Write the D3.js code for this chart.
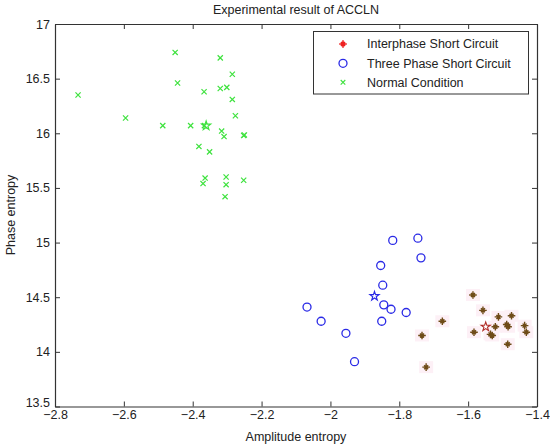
<!DOCTYPE html>
<html><head><meta charset="utf-8">
<script src="https://cdn.jsdelivr.net/npm/d3@7"></script>
<style>body{margin:0;background:#fff}svg{display:block;font-family:"Liberation Sans",Arial,sans-serif}</style>
</head><body><svg id="c" width="550" height="447"></svg>
<script>
// ---- data ----
const xTicks = [-2.8, -2.6, -2.4, -2.2, -2, -1.8, -1.6, -1.4];
const yTicks = [13.5, 14, 14.5, 15, 15.5, 16, 16.5, 17];
const seriesNames = ["Interphase Short Circuit", "Three Phase Short Circuit", "Normal Condition"];

const interX = [-1.586, -1.557, -1.512, -1.474, -1.675, -1.521, -1.488, -1.484, -1.436, -1.431, -1.583, -1.535, -1.530, -1.734, -1.485, -1.722];
const interY = [14.52, 14.38, 14.32, 14.33, 14.28, 14.23, 14.25, 14.23, 14.24, 14.18, 14.18, 14.16, 14.15, 14.15, 14.07, 13.86];

const threeX = [-1.819, -1.746, -1.737, -1.854, -1.848, -2.068, -1.845, -1.824, -1.780, -2.027, -1.851, -1.955, -1.930];
const threeY = [15.02, 15.04, 14.86, 14.79, 14.61, 14.41, 14.43, 14.39, 14.36, 14.28, 14.28, 14.17, 13.91];

const normX = [-2.733, -2.595, -2.487, -2.406, -2.451, -2.444, -2.367, -2.366, -2.320, -2.320, -2.301, -2.285, -2.285, -2.276, -2.316, -2.309, -2.252, -2.250, -2.382, -2.351, -2.364, -2.370, -2.303, -2.303, -2.252, -2.306];
const normY = [16.35, 16.14, 16.07, 16.07, 16.74, 16.46, 16.38, 16.07, 16.69, 16.41, 16.42, 16.54, 16.31, 16.16, 16.02, 15.97, 15.98, 15.985, 15.88, 15.83, 15.59, 15.54, 15.60, 15.53, 15.57, 15.42];

// cluster centres (pentagram markers): interphase, three phase, normal
const centerX = [-1.549, -1.872, -2.361];
const centerY = [14.23, 14.51, 16.07];

// ---- drawing ----
const svg = d3.select("#c");
const x = d3.scaleLinear().domain([-2.8, -1.4]).range([55, 537]);
const y = d3.scaleLinear().domain([13.5, 17]).range([406.5, 24]);
const axisColor = "#333";
const tickFont = 12.5;

const g = svg.append("g");

// faint pink JPEG-like halos behind red markers
g.selectAll("rect.halo").data(interX.map((v, i) => [v, interY[i]])).join("rect")
  .attr("x", d => x(d[0]) - 7).attr("y", d => y(d[1]) - 6)
  .attr("width", 14).attr("height", 12)
  .attr("fill", "#fdf0f6");

// frame + axes
function styleAxis(sel) {
  sel.selectAll("path.domain").attr("stroke", axisColor).attr("stroke-width", 1.2);
  sel.selectAll("line").attr("stroke", axisColor);
  sel.selectAll("text").attr("fill", "#222").attr("font-size", tickFont)
     .attr("font-family", "Liberation Sans, Arial, sans-serif");
}
svg.append("g").attr("transform", `translate(0,${y(13.5)})`)
  .call(d3.axisBottom(x).tickValues(xTicks).tickFormat(d3.format("")).tickSize(-5).tickSizeOuter(0).tickPadding(4))
  .call(styleAxis);
const yAx = svg.append("g").attr("transform", `translate(${x(-2.8)},0)`)
  .call(d3.axisLeft(y).tickValues(yTicks).tickFormat(d3.format("")).tickSize(-5).tickSizeOuter(0).tickPadding(5))
  .call(styleAxis);
yAx.selectAll(".tick").filter(d => d === 13.5).select("text").attr("dy", "0.02em");
svg.append("g").attr("transform", `translate(0,${y(17)})`)
  .call(d3.axisTop(x).tickValues(xTicks).tickFormat("").tickSize(-5).tickSizeOuter(0))
  .call(styleAxis);
svg.append("g").attr("transform", `translate(${x(-1.4)},0)`)
  .call(d3.axisRight(y).tickValues(yTicks).tickFormat("").tickSize(-5).tickSizeOuter(0))
  .call(styleAxis);

// markers
const xPath = a => `M${-a},${-a}L${a},${a}M${-a},${a}L${a},${-a}`;
const starPath = (a, b) => `M${-a},0L${a},0M0,${-a}L0,${a}M${-b},${-b}L${b},${b}M${-b},${b}L${b},${-b}`;

g.selectAll("path.norm").data(normX.map((v, i) => [v, normY[i]])).join("path")
  .attr("transform", d => `translate(${x(d[0])},${y(d[1])})`)
  .attr("d", xPath(2.6)).attr("stroke", "#3ee23e").attr("stroke-width", 1.2).attr("fill", "none");

g.selectAll("circle.three").data(threeX.map((v, i) => [v, threeY[i]])).join("circle")
  .attr("cx", d => x(d[0])).attr("cy", d => y(d[1])).attr("r", 4)
  .attr("stroke", "#2a2ae6").attr("stroke-width", 1.3).attr("fill", "none");

g.selectAll("path.inter").data(interX.map((v, i) => [v, interY[i]])).join("path")
  .attr("transform", d => `translate(${x(d[0])},${y(d[1])})`)
  .attr("d", starPath(3.8, 2)).attr("stroke", "#6f4c18").attr("stroke-width", 1.4).attr("fill", "none");

const centerColors = ["#b2302a", "#2a2ae6", "#3ee23e"];
g.selectAll("path.center").data(centerX.map((v, i) => [v, centerY[i], centerColors[i]])).join("path")
  .attr("transform", d => `translate(${x(d[0])},${y(d[1])})`)
  .attr("d", d3.symbol(d3.symbolStar, 26)())
  .attr("stroke", d => d[2]).attr("stroke-width", 1.1).attr("fill", "none");

// legend
const lg = svg.append("g");
lg.append("rect").attr("x", 313.5).attr("y", 31.5).attr("width", 215).attr("height", 62.5)
  .attr("fill", "#fff").attr("stroke", axisColor).attr("stroke-width", 1);
const rows = [44, 63.3, 82.3];
lg.append("path").attr("transform", `translate(343,${rows[0]})`).attr("d", starPath(3.8, 2))
  .attr("stroke", "#ee2020").attr("stroke-width", 1.6);
lg.append("circle").attr("cx", 343).attr("cy", rows[1]).attr("r", 4)
  .attr("stroke", "#2a2ae6").attr("stroke-width", 1.3).attr("fill", "none");
lg.append("path").attr("transform", `translate(343,${rows[2]})`).attr("d", xPath(2.3))
  .attr("stroke", "#3ee23e").attr("stroke-width", 1.1);
lg.selectAll("text").data(seriesNames).join("text")
  .attr("x", 367).attr("y", (d, i) => rows[i]).attr("dy", "0.35em")
  .attr("font-size", 12.5).attr("fill", "#222").text(d => d);

// titles
svg.append("text").attr("x", 296).attr("y", 14).attr("text-anchor", "middle")
  .attr("font-size", 12.5).attr("fill", "#222").text("Experimental result of ACCLN");
svg.append("text").attr("x", 296).attr("y", 441).attr("text-anchor", "middle")
  .attr("font-size", 12.5).attr("fill", "#222").text("Amplitude entropy");
svg.append("text").attr("transform", "translate(15,215) rotate(-90)").attr("text-anchor", "middle")
  .attr("font-size", 12.5).attr("fill", "#222").text("Phase entropy");
</script></body></html>
